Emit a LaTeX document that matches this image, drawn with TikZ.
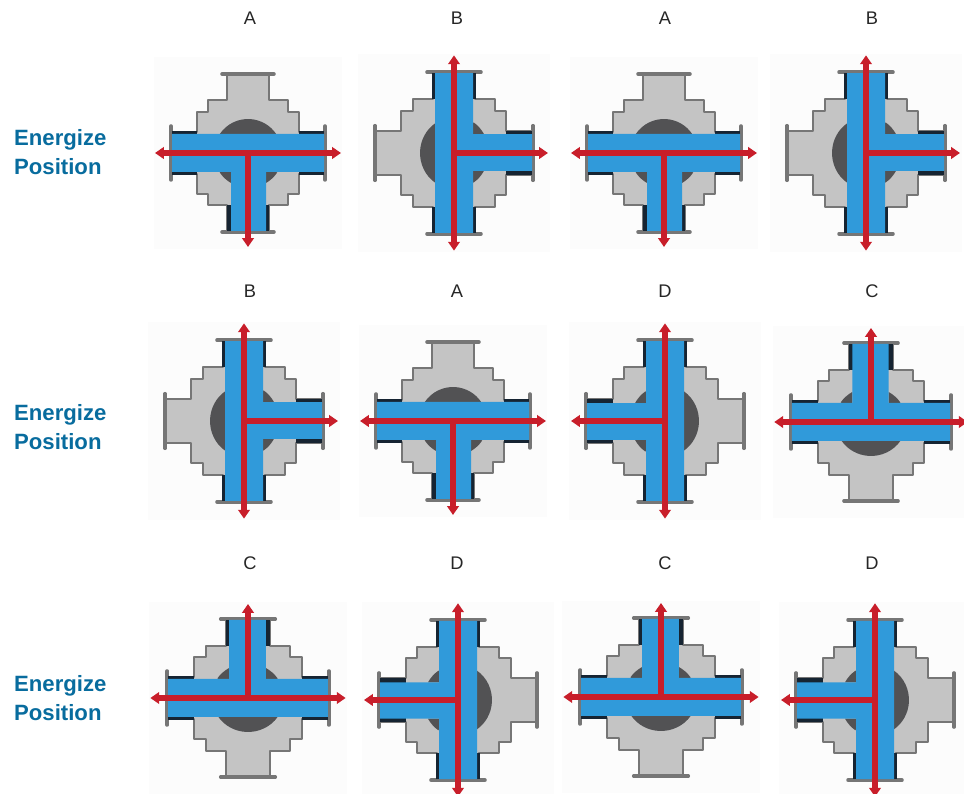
\documentclass[tikz,border=0pt]{standalone}
\usepackage{fontspec}
\setmainfont{Liberation Sans}
\usetikzlibrary{arrows.meta}
\definecolor{vgray}{RGB}{196,196,196}
\definecolor{vedge}{RGB}{118,118,118}
\definecolor{vcore}{RGB}{82,82,84}
\definecolor{vblue}{RGB}{48,154,218}
\definecolor{vdark}{RGB}{22,36,50}
\definecolor{vred}{RGB}{200,30,42}
\definecolor{vtitle}{RGB}{8,108,158}
\tikzset{
  tag/.style={font=\fontsize{10.4}{12}\selectfont, text=black!85},
  side/.style={font=\fontsize{12.6}{16.4}\selectfont\bfseries, text=vtitle, align=left, anchor=west},
  vbody/.style={fill=vgray, draw=vedge, line width=1.1pt, line join=round},
  vcap/.style={draw=vedge, line width=2pt, line cap=round},
  vport/.style={draw=vdark, line width=1.5pt},
  vflow/.style={draw=vred, line width=3pt, {Triangle[length=5pt,width=6.5pt]}-{Triangle[length=5pt,width=6.5pt]}},
  vdrop/.style={draw=vred, line width=3pt, -{Triangle[length=5pt,width=6.5pt]}},
}
% x, y (image pixels), turn, size across the arms
\newcommand{\valve}[4]{
  \begin{scope}[shift={(#1,{794-#2})}, rotate=#3, xscale=#4]
    \fill[black!1] (-94,-96) rectangle (94,96);
    \draw[vbody] (-21,78)--(-21,53)--(-40,53)--(-40,41)--(-51,41)--(-51,21)--(-76,21)--(-76,-21)--(-51,-21)--(-51,-41)--(-40,-41)--(-40,-52)--(-21,-52)--(-21,-78)--(21,-78)--(21,-52)--(40,-52)--(40,-41)--(51,-41)--(51,-21)--(76,-21)--(76,21)--(51,21)--(51,41)--(40,41)--(40,53)--(21,53)--(21,78)--cycle;
    \fill[vcore] (-28.2,19) arc[start angle=146, end angle=34, radius=34]--cycle;
    \fill[vcore] (-28,-19)--(-17,-19)--(-17,-30) arc[start angle=-120, end angle=-146, radius=34]--cycle;
    \fill[vcore] (28,-19)--(18,-19)--(18,-30) arc[start angle=-60, end angle=-34, radius=34]--cycle;
    \draw[vcap] (-26,79)--(26,79);
    \draw[vcap] (-26,-79)--(26,-79);
    \draw[vcap] (-77,-27)--(-77,27);
    \draw[vcap] (77,-27)--(77,27);
    \fill[vdark] (-21,-52) rectangle (21,-78);
    \draw[vport] (-76,20.5)--(-51,20.5) (76,20.5)--(51,20.5) (-76,-20.5)--(-51,-20.5) (76,-20.5)--(51,-20.5);
    \fill[vblue] (-76,19)--(76,19)--(76,-19)--(18,-19)--(18,-78)--(-17,-78)--(-17,-19)--(-76,-19)--cycle;
    \draw[vdrop] (0,0)--(0,-94);
    \draw[vflow] (-93,0)--(93,0);
  \end{scope}
}

\begin{document}
\begin{tikzpicture}[x=0.02cm,y=0.02cm]
  \useasboundingbox (0,0) rectangle (964,794);
  % first row
  \valve{248}{153}{0}{1}
  \valve{454}{153}{90}{1.05}
  \valve{664}{153}{0}{1}
  \valve{866}{153}{90}{1.05}
  % second row
  \valve{244}{421}{90}{1.05}
  \valve{453}{421}{0}{1}
  \valve{665}{421}{-90}{1.05}
  \valve{871}{422}{180}{1.04}
  % third row
  \valve{248}{698}{180}{1.05}
  \valve{458}{700}{-90}{1.04}
  \valve{661}{697}{180}{1.05}
  \valve{875}{700}{-90}{1.04}

  \node[tag](taga) at (250,{794-18}){A};
  \node[tag](tagb) at (457,{794-18}){B};
  \node[tag](tagc) at (665,{794-18}){A};
  \node[tag](tagd) at (872,{794-18}){B};
  \node[tag](tage) at (250,{794-291}){B};
  \node[tag](tagf) at (457,{794-291}){A};
  \node[tag](tagg) at (665,{794-291}){D};
  \node[tag](tagh) at (872,{794-291}){C};
  \node[tag](tagi) at (250,{794-563}){C};
  \node[tag](tagj) at (457,{794-563}){D};
  \node[tag](tagk) at (665,{794-563}){C};
  \node[tag](tagl) at (872,{794-563}){D};

  \node[side](first) at (8,{794-152}){Energize\\Position};
  \node[side](second) at (8,{794-427}){Energize\\Position};
  \node[side](third) at (8,{794-698}){Energize\\Position};
\end{tikzpicture}
\end{document}
